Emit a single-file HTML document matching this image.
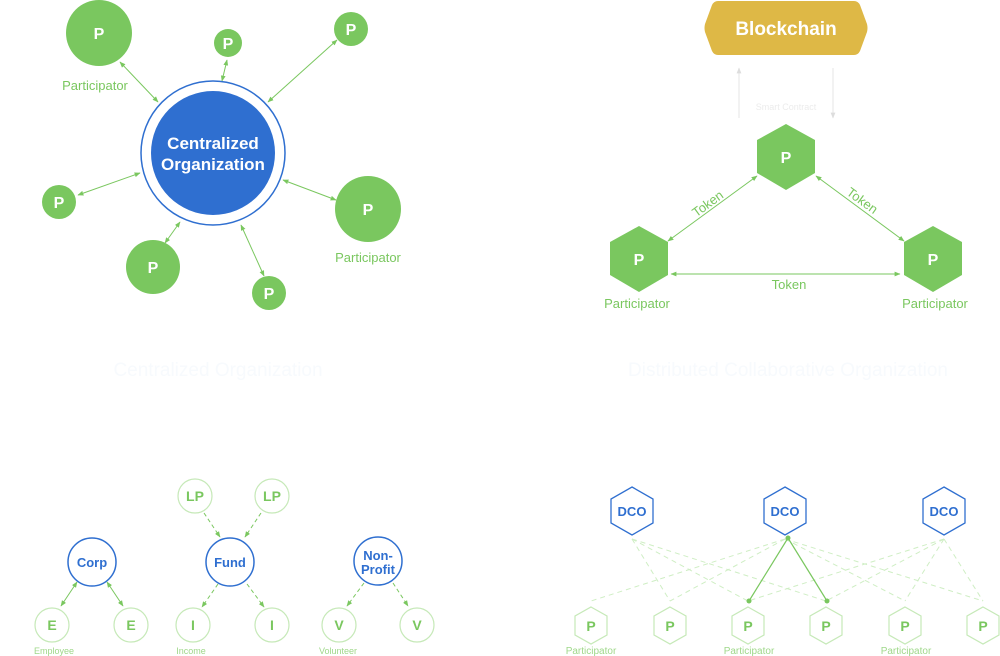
<!DOCTYPE html>
<html><head><meta charset="utf-8"><style>
html,body{margin:0;padding:0;background:#fff}
svg{display:block;font-family:"Liberation Sans",sans-serif}
</style></head><body>
<svg width="1000" height="656" viewBox="0 0 1000 656" xmlns="http://www.w3.org/2000/svg">
<defs>
<marker id="ag" viewBox="0 0 10 10" refX="9" refY="5" markerWidth="6" markerHeight="6" orient="auto-start-reverse"><path d="M0,1 L10,5 L0,9 z" fill="#7ac75f"/></marker>
<marker id="agr" viewBox="0 0 10 10" refX="9" refY="5" markerWidth="6" markerHeight="6" orient="auto"><path d="M0,1 L10,5 L0,9 z" fill="#ddd"/></marker>
</defs>
<!-- Top-left -->
<g stroke="#7ac75f" stroke-width="1" marker-start="url(#ag)" marker-end="url(#ag)">
<line x1="120" y1="62" x2="158" y2="102"/>
<line x1="227" y1="60" x2="222" y2="81"/>
<line x1="337" y1="40" x2="268" y2="102"/>
<line x1="78" y1="195" x2="140" y2="173"/>
<line x1="165" y1="243" x2="180" y2="222"/>
<line x1="336" y1="200" x2="283" y2="180"/>
<line x1="264" y1="276" x2="241" y2="225"/>
</g>
<circle cx="213" cy="153" r="72" fill="#fff" stroke="#2f6fd0" stroke-width="1.5"/>
<circle cx="213" cy="153" r="62" fill="#2f6fd0"/>
<text x="213" y="149" font-size="17" font-weight="bold" fill="#fff" text-anchor="middle">Centralized</text>
<text x="213" y="170" font-size="17" font-weight="bold" fill="#fff" text-anchor="middle">Organization</text>
<g fill="#7ac75f">
<circle cx="99" cy="33" r="33"/><circle cx="228" cy="43" r="14"/><circle cx="351" cy="29" r="17"/>
<circle cx="59" cy="202" r="17"/><circle cx="153" cy="267" r="27"/><circle cx="368" cy="209" r="33"/><circle cx="269" cy="293" r="17"/>
</g>
<g fill="#fff" font-weight="bold" text-anchor="middle" font-size="16">
<text x="99" y="39">P</text><text x="228" y="49">P</text><text x="351" y="35">P</text><text x="59" y="208">P</text><text x="153" y="273">P</text><text x="368" y="215">P</text><text x="269" y="299">P</text>
</g>
<text x="95" y="90" font-size="13" fill="#7ac75f" text-anchor="middle">Participator</text>
<text x="368" y="262" font-size="13" fill="#7ac75f" text-anchor="middle">Participator</text>
<text x="218" y="376" font-size="19" fill="#f7fafd" text-anchor="middle">Centralized Organization</text>

<!-- Top-right -->
<path d="M718,1 L854,1 Q858,1 860,5 L867,24 Q868,28 867,32 L860,51 Q858,55 854,55 L718,55 Q714,55 712,51 L705,32 Q704,28 705,24 L712,5 Q714,1 718,1 Z" fill="#deb846"/>
<text x="786" y="35" font-size="19" font-weight="bold" fill="#fff" text-anchor="middle">Blockchain</text>
<line x1="739" y1="118" x2="739" y2="68" stroke="#e4e4e4" marker-end="url(#agr)"/>
<line x1="833" y1="68" x2="833" y2="118" stroke="#e4e4e4" marker-end="url(#agr)"/>
<text x="786" y="110" font-size="9" fill="#ececec" text-anchor="middle">Smart Contract</text>
<g stroke="#7ac75f" stroke-width="1" marker-start="url(#ag)" marker-end="url(#ag)">
<line x1="757" y1="176" x2="668" y2="241"/>
<line x1="816" y1="176" x2="904" y2="241"/>
<line x1="671" y1="274" x2="900" y2="274"/>
</g>
<g fill="#7ac75f">
<path d="M786,124 L815,140 L815,173 L786,190 L757,173 L757,140 Z"/>
<path d="M639,226 L668,242 L668,275 L639,292 L610,275 L610,242 Z"/>
<path d="M933,226 L962,242 L962,275 L933,292 L904,275 L904,242 Z"/>
</g>
<g fill="#fff" font-weight="bold" text-anchor="middle" font-size="16">
<text x="786" y="163">P</text><text x="639" y="265">P</text><text x="933" y="265">P</text>
</g>
<text x="708" y="208" font-size="13" fill="#7ac75f" text-anchor="middle" transform="rotate(-36 708 204)">Token</text>
<text x="862" y="205" font-size="13" fill="#7ac75f" text-anchor="middle" transform="rotate(36 862 201)">Token</text>
<text x="789" y="289" font-size="13" fill="#7ac75f" text-anchor="middle">Token</text>
<text x="637" y="308" font-size="13" fill="#7ac75f" text-anchor="middle">Participator</text>
<text x="935" y="308" font-size="13" fill="#7ac75f" text-anchor="middle">Participator</text>
<text x="788" y="376" font-size="19" fill="#f7fafd" text-anchor="middle">Distributed Collaborative Organization</text>

<!-- Bottom-left -->
<g stroke="#7ac75f" stroke-width="1" marker-start="url(#ag)" marker-end="url(#ag)">
<line x1="77" y1="582" x2="61" y2="606"/>
<line x1="107" y1="582" x2="123" y2="606"/>
</g>
<g stroke="#7ac75f" stroke-width="1" stroke-dasharray="4,3" marker-end="url(#ag)">
<line x1="204" y1="513" x2="220" y2="537"/>
<line x1="261" y1="513" x2="245" y2="537"/>
<line x1="218" y1="584" x2="202" y2="607"/>
<line x1="247" y1="584" x2="264" y2="607"/>
<line x1="364" y1="583" x2="347" y2="606"/>
<line x1="393" y1="583" x2="408" y2="606"/>
</g>
<g fill="#fff" stroke="#2f6fd0" stroke-width="1.5">
<circle cx="92" cy="562" r="24"/><circle cx="230" cy="562" r="24"/><circle cx="378" cy="561" r="24"/>
</g>
<g fill="#2f6fd0" font-weight="bold" text-anchor="middle" font-size="13">
<text x="92" y="567">Corp</text><text x="230" y="567">Fund</text><text x="378" y="560">Non-</text><text x="378" y="574">Profit</text>
</g>
<g fill="#fff" stroke="#c6e9b8" stroke-width="1.2">
<circle cx="52" cy="625" r="17"/><circle cx="131" cy="625" r="17"/>
<circle cx="195" cy="496" r="17"/><circle cx="272" cy="496" r="17"/>
<circle cx="193" cy="625" r="17"/><circle cx="272" cy="625" r="17"/>
<circle cx="339" cy="625" r="17"/><circle cx="417" cy="625" r="17"/>
</g>
<g fill="#7ac75f" font-weight="bold" text-anchor="middle" font-size="14">
<text x="52" y="630">E</text><text x="131" y="630">E</text><text x="195" y="501">LP</text><text x="272" y="501">LP</text>
<text x="193" y="630">I</text><text x="272" y="630">I</text><text x="339" y="630">V</text><text x="417" y="630">V</text>
</g>
<g fill="#9fd88a" font-size="9" text-anchor="middle">
<text x="54" y="654">Employee</text><text x="191" y="654">Income</text><text x="338" y="654">Volunteer</text>
</g>

<!-- Bottom-right -->
<g stroke="#cfeec4" stroke-width="1" stroke-dasharray="5,4" fill="none">
<line x1="632" y1="539" x2="670" y2="601"/><line x1="632" y1="539" x2="826" y2="601"/><line x1="632" y1="539" x2="748" y2="601"/>
<line x1="785" y1="539" x2="591" y2="601"/><line x1="785" y1="539" x2="670" y2="601"/><line x1="785" y1="539" x2="905" y2="601"/><line x1="785" y1="539" x2="983" y2="601"/>
<line x1="944" y1="539" x2="905" y2="601"/><line x1="944" y1="539" x2="983" y2="601"/><line x1="944" y1="539" x2="748" y2="601"/><line x1="944" y1="539" x2="826" y2="601"/>
</g>
<g stroke="#7ac75f" stroke-width="1.2">
<line x1="788" y1="538" x2="749" y2="601"/><line x1="788" y1="538" x2="827" y2="601"/>
</g>
<g fill="#7ac75f"><circle cx="788" cy="538" r="2.5"/><circle cx="749" cy="601" r="2.5"/><circle cx="827" cy="601" r="2.5"/></g>
<g fill="#fff" stroke="#2f6fd0" stroke-width="1.3">
<path d="M632,487 L653,499 L653,523 L632,535 L611,523 L611,499 Z"/>
<path d="M785,487 L806,499 L806,523 L785,535 L764,523 L764,499 Z"/>
<path d="M944,487 L965,499 L965,523 L944,535 L923,523 L923,499 Z"/>
</g>
<g fill="#2f6fd0" font-weight="bold" text-anchor="middle" font-size="13">
<text x="632" y="516">DCO</text><text x="785" y="516">DCO</text><text x="944" y="516">DCO</text>
</g>
<g fill="#fff" stroke="#c6e9b8" stroke-width="1.2">
<path d="M591,607 L607,616 L607,635 L591,644 L575,635 L575,616 Z"/>
<path d="M670,607 L686,616 L686,635 L670,644 L654,635 L654,616 Z"/>
<path d="M748,607 L764,616 L764,635 L748,644 L732,635 L732,616 Z"/>
<path d="M826,607 L842,616 L842,635 L826,644 L810,635 L810,616 Z"/>
<path d="M905,607 L921,616 L921,635 L905,644 L889,635 L889,616 Z"/>
<path d="M983,607 L999,616 L999,635 L983,644 L967,635 L967,616 Z"/>
</g>
<g fill="#7ac75f" font-weight="bold" text-anchor="middle" font-size="14">
<text x="591" y="631">P</text><text x="670" y="631">P</text><text x="748" y="631">P</text><text x="826" y="631">P</text><text x="905" y="631">P</text><text x="983" y="631">P</text>
</g>
<g fill="#9fd88a" font-size="10" text-anchor="middle">
<text x="591" y="654">Participator</text><text x="749" y="654">Participator</text><text x="906" y="654">Participator</text>
</g>
</svg>
</body></html>
